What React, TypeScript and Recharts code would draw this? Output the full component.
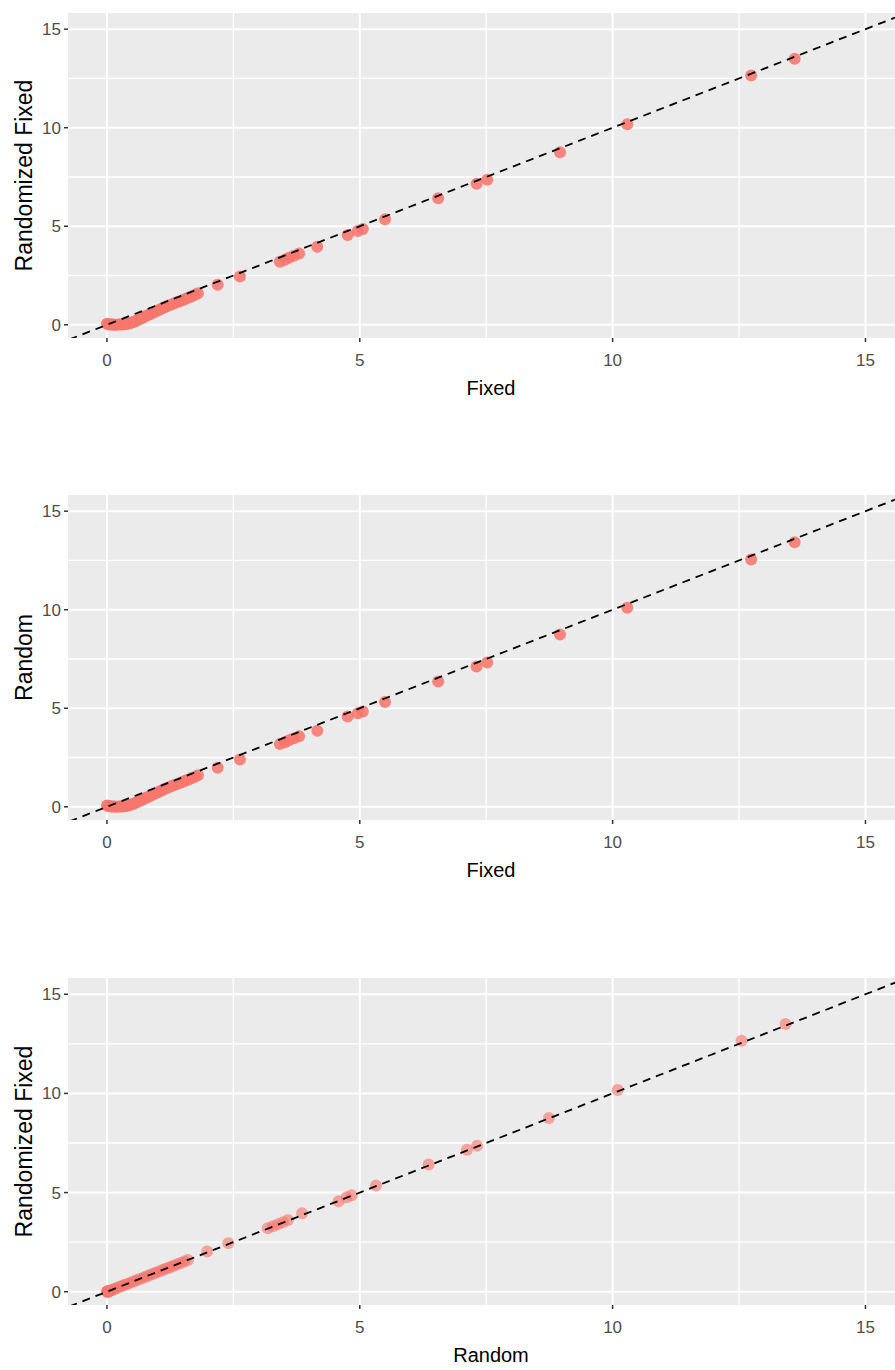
import React from 'react';
import { ScatterChart, Scatter, XAxis, YAxis, CartesianGrid, Label } from 'recharts';

const fixedValues = [
  0.0, 0.03, 0.06, 0.09, 0.12, 0.15, 0.19, 0.23, 0.27, 0.31, 0.35, 0.39, 0.43, 0.47, 0.51, 0.55, 0.59, 0.63, 0.67, 0.71,
  0.75, 0.8, 0.85, 0.9, 0.95, 1.0, 1.05, 1.1, 1.15, 1.2, 1.26, 1.32, 1.38, 1.44, 1.5, 1.56, 1.62, 1.68, 1.74, 1.8,
  2.19, 2.63, 3.42, 3.52, 3.6, 3.7, 3.8, 4.16, 4.76, 4.96, 5.06, 5.5, 6.55, 7.31, 7.52, 8.96, 10.29, 12.74, 13.6,
];
const randomizedFixedValues = [
  0.05, 0.03, 0.02, 0.02, 0.01, 0.0, 0.0, 0.01, 0.01, 0.02, 0.03, 0.04, 0.06, 0.09, 0.13, 0.17, 0.22, 0.27, 0.32, 0.37,
  0.42, 0.48, 0.54, 0.6, 0.66, 0.72, 0.78, 0.84, 0.9, 0.96, 1.02, 1.08, 1.14, 1.2, 1.26, 1.32, 1.38, 1.45, 1.52, 1.6,
  2.03, 2.45, 3.2, 3.3, 3.4, 3.5, 3.62, 3.96, 4.56, 4.76, 4.86, 5.35, 6.42, 7.16, 7.36, 8.76, 10.17, 12.65, 13.5,
];
const randomValues = [
  0.06, 0.04, 0.03, 0.02, 0.01, 0.01, 0.0, 0.01, 0.02, 0.02, 0.03, 0.05, 0.07, 0.1, 0.14, 0.18, 0.23, 0.28, 0.33, 0.38,
  0.43, 0.49, 0.55, 0.61, 0.67, 0.73, 0.79, 0.85, 0.91, 0.97, 1.03, 1.09, 1.15, 1.21, 1.27, 1.33, 1.39, 1.46, 1.53, 1.6,
  1.98, 2.4, 3.18, 3.28, 3.38, 3.48, 3.58, 3.86, 4.58, 4.74, 4.84, 5.32, 6.36, 7.12, 7.32, 8.74, 10.1, 12.55, 13.42,
];
// identity reference line y = x
const identityLine = [{ x: -1, y: -1 }, { x: 17, y: 17 }];

const tickValues = [0, 5, 10, 15];
const minorValues = [2.5, 7.5, 12.5];
const xDomain = [-0.77, 15.96];
const yDomain = [-0.67, 15.82];

const FONT = '"Liberation Sans", Arial, sans-serif';

const pair = (xs: number[], ys: number[]) => xs.map((v, i) => ({ x: v, y: ys[i] }));

const panels = [
  { top: 0, plotHeight: 325, xLabel: 'Fixed', yLabel: 'Randomized Fixed', data: pair(fixedValues, randomizedFixedValues), opacity: 0.88 },
  { top: 482, plotHeight: 325, xLabel: 'Fixed', yLabel: 'Random', data: pair(fixedValues, randomValues), opacity: 0.88 },
  { top: 965, plotHeight: 327, xLabel: 'Random', yLabel: 'Randomized Fixed', data: pair(randomValues, randomizedFixedValues), opacity: 0.62 },
];

const CHART_WIDTH = 930;
const MARGIN_TOP = 13;
const X_AXIS_HEIGHT = 100;

function Panel({ p }: { p: any }) {
  const dot = (props: any) => (
    <circle cx={props.cx} cy={props.cy} r={6} fill="#F8766D" fillOpacity={p.opacity} />
  );
  return (
    <div style={{ position: 'absolute', left: 0, top: p.top }}>
      <ScatterChart
        width={CHART_WIDTH}
        height={MARGIN_TOP + p.plotHeight + X_AXIS_HEIGHT}
        margin={{ top: MARGIN_TOP, right: 16, bottom: 0, left: 0 }}
      >
        <CartesianGrid fill="#EBEBEB" stroke="#FFFFFF" strokeWidth={1.3}
          horizontalValues={minorValues} verticalValues={minorValues} />
        <CartesianGrid stroke="#FFFFFF" strokeWidth={2}
          horizontalValues={tickValues} verticalValues={tickValues} />
        <XAxis type="number" dataKey="x" domain={xDomain} ticks={tickValues} allowDataOverflow
          axisLine={false} tickSize={4} tickMargin={12} height={X_AXIS_HEIGHT} interval={0}
          tickLine={{ stroke: '#333333', strokeWidth: 1.5 }}
          tick={{ fontSize: 17, fill: '#4D4D4D', fontFamily: FONT }}>
          <Label value={p.xLabel} position="center" style={{ fontSize: 20, fill: '#000', fontFamily: FONT }} />
        </XAxis>
        <YAxis type="number" dataKey="y" domain={yDomain} ticks={tickValues} allowDataOverflow
          axisLine={false} tickSize={4} tickMargin={3} width={68} interval={0}
          tickLine={{ stroke: '#333333', strokeWidth: 1.5 }}
          tick={{ fontSize: 17, fill: '#4D4D4D', fontFamily: FONT }}>
          <Label value={p.yLabel} angle={-90} position="insideLeft" offset={24}
            style={{ fontSize: 23, fill: '#000', fontFamily: FONT, textAnchor: 'middle' }} />
        </YAxis>
        <Scatter data={p.data} shape={dot} isAnimationActive={false} />
        <Scatter data={identityLine} isAnimationActive={false}
          line={{ stroke: '#000000', strokeWidth: 1.8, strokeDasharray: '8 6' }}
          shape={() => <g />} />
      </ScatterChart>
    </div>
  );
}

export default function App() {
  return (
    <div style={{ position: 'fixed', left: 0, top: 0, width: 895, height: 1370, overflow: 'hidden', background: '#fff', fontFamily: FONT }}>
      {panels.map((p, i) => <Panel key={i} p={p} />)}
    </div>
  );
}
